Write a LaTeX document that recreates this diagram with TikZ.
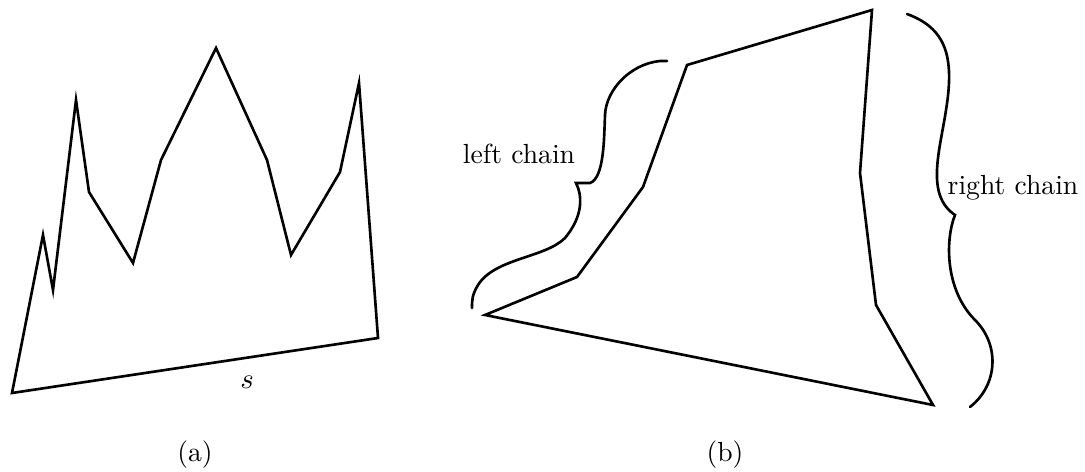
\documentclass[tikz,border=0pt]{standalone}
\begin{document}
\begin{tikzpicture}[x=0.38pt,y=-0.38pt,line width=1pt,
  edge/.style={draw=black,line join=miter},
  lbl/.style={font=\fontsize{10.5}{12}\selectfont,inner sep=0pt}]
\useasboundingbox (0,0) rectangle (1085,472);
% polygon (a)
\foreach \n/\x/\y in {a1/12/393,a2/43/235,a3/53/290,a4/76/100,a5/89/192,a6/133/263,a7/161/160,a8/216/48,a9/267/160,a10/291/255,a11/340/172,a12/359/83,a13/378/338}
  \coordinate (\n) at (\x,\y);
\draw[edge] (a1)--(a2)--(a3)--(a4)--(a5)--(a6)--(a7)--(a8)--(a9)--(a10)--(a11)--(a12)--(a13)--cycle;
\node[lbl] (s) at (247,382) {$s$};
% polygon (b)
\foreach \n/\x/\y in {b1/485/315,b2/577/277,b3/643/187,b4/687/65,b5/872/10,b6/860/173,b7/876/305,b8/933/405}
  \coordinate (\n) at (\x,\y);
\draw[edge] (b1)--(b2)--(b3)--(b4)--(b5)--(b6)--(b7)--(b8)--cycle;
% left brace
\draw[line cap=round] (667,61) -- (660,61) .. controls (630,64) and (606,90) .. (605,115)
  .. controls (604,140) and (604,178) .. (590,183) -- (576,183)
  .. controls (582,195) and (584,215) .. (565,238)
  .. controls (545,258) and (495,258) .. (478,285) .. controls (472,295) and (472,300) .. (472,308);
% right brace
\draw[line cap=round] (907,14) .. controls (945,28) and (955,55) .. (946,110)
  .. controls (940,150) and (925,195) .. (955,215)
  .. controls (945,240) and (945,290) .. (975,320)
  .. controls (1000,345) and (998,385) .. (970,407);
\node[lbl] (lc) at (519,154) {left chain};
\node[lbl] (rc) at (1013,188) {right chain};
\node[lbl] (ca) at (195,455) {(a)};
\node[lbl] (cb) at (725,455) {(b)};
\end{tikzpicture}
\end{document}
